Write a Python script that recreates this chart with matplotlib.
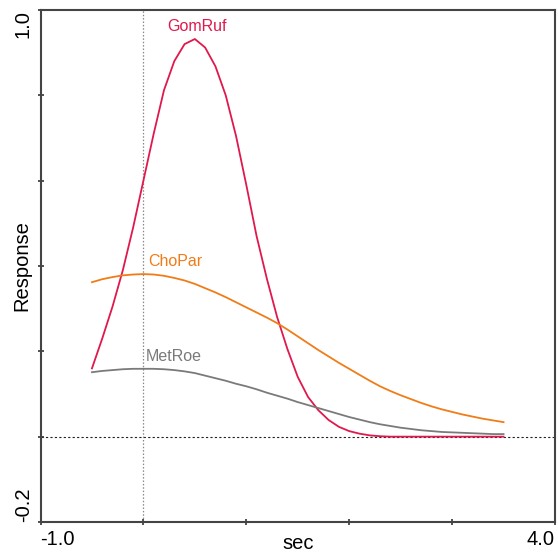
import matplotlib
matplotlib.use('Agg')
import matplotlib.pyplot as plt
import numpy as np

plt.rcParams['font.family'] = ['Liberation Sans', 'DejaVu Sans']

# time axis (sec), sampled every 0.1 s
t = np.round(np.arange(-0.5, 3.51, 0.1), 2)

gomruf = [0.16, 0.23, 0.305, 0.39, 0.49, 0.60, 0.71, 0.812, 0.88, 0.92,
          0.932, 0.912, 0.868, 0.80, 0.705, 0.59, 0.47, 0.37, 0.28, 0.205,
          0.14, 0.093, 0.062, 0.039, 0.023, 0.013, 0.007, 0.003, 0.001, 0.0,
          0.0, 0.0, 0.0, 0.0, 0.0, 0.0, 0.0, 0.0, 0.0, 0.0, 0.0]

chopar = [0.362, 0.369, 0.374, 0.378, 0.380, 0.381, 0.380, 0.377, 0.372, 0.366,
          0.358, 0.348, 0.338, 0.327, 0.315, 0.303, 0.291, 0.279, 0.266, 0.251,
          0.235, 0.219, 0.203, 0.188, 0.173, 0.159, 0.145, 0.131, 0.118, 0.107,
          0.097, 0.088, 0.079, 0.071, 0.064, 0.058, 0.052, 0.047, 0.042, 0.038,
          0.034]

metroe = [0.151, 0.154, 0.156, 0.158, 0.159, 0.159, 0.159, 0.158, 0.156, 0.153,
          0.149, 0.143, 0.137, 0.131, 0.124, 0.118, 0.111, 0.103, 0.096, 0.089,
          0.081, 0.074, 0.067, 0.060, 0.053, 0.046, 0.040, 0.034, 0.029, 0.025,
          0.021, 0.018, 0.015, 0.013, 0.011, 0.010, 0.009, 0.008, 0.007, 0.006,
          0.006]

names = ['GomRuf', 'ChoPar', 'MetRoe']
colors = ['#e0184c', '#f07c18', '#7a7a7a']
label_pos = [(0.52, 0.962, 'center'), (0.05, 0.41, 'left'), (0.02, 0.188, 'left')]

fig = plt.figure(figsize=(5.58, 5.55), dpi=100)
ax = fig.add_axes([0.0726, 0.0595, 0.922, 0.9225])

ax.axhline(0, color='#222222', lw=0.8, ls=(0, (2, 2)), zorder=1)
ax.axvline(0, color='#888888', lw=0.9, ls=(0, (1.2, 1.5)), zorder=1)

for ys, c, (lx, ly, ha), name in zip([gomruf, chopar, metroe], colors, label_pos, names):
    ax.plot(t, ys, color=c, lw=1.3, zorder=3)
    ax.text(lx, ly, name, color=c, fontsize=11.5, ha=ha, va='center')

ax.set_xlim(-1.0, 4.0)
ax.set_ylim(-0.2, 1.0)

ax.set_xticks([-1, 0, 1, 2, 3, 4])
ax.set_xticklabels(['-1.0', '', '', '', '', '4.0'])
ax.set_yticks([-0.2, 0.0, 0.2, 0.4, 0.6, 0.8, 1.0])
ax.set_yticklabels(['-0.2', '', '', '', '', '', '1.0'])

ax.tick_params(direction='inout', length=5, width=1.2, color='#333333',
               labelsize=14.5, pad=3)
ax.tick_params(axis='y', labelrotation=90)
xl = ax.get_xticklabels()
xl[0].set_ha('left')
xl[-1].set_ha('right')
yl = ax.get_yticklabels()
yl[0].set_va('bottom')
yl[-1].set_va('top')

for s in ax.spines.values():
    s.set_color('#444444')
    s.set_linewidth(1.5)

ax.text(0.5, -0.052, 'sec', transform=ax.transAxes, ha='center', va='baseline',
        fontsize=14.5)
ax.text(-0.017, 0.5, 'Response', transform=ax.transAxes, ha='right', va='center',
        rotation=90, fontsize=14.5)

fig.savefig('out.png', dpi=100)
